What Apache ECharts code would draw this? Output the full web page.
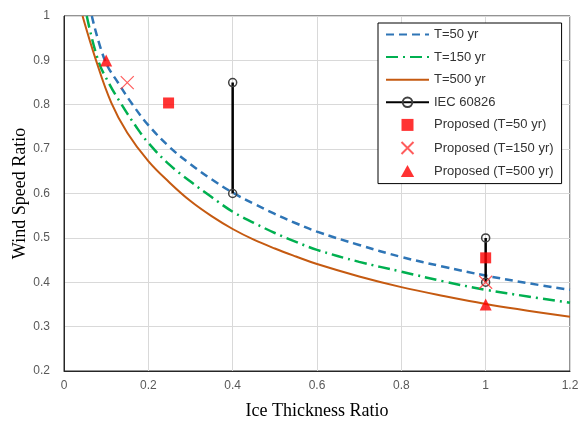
<!DOCTYPE html>
<html>
<head>
<meta charset="utf-8">
<script src="https://cdn.jsdelivr.net/npm/echarts@6/dist/echarts.min.js"></script>
<style>
  html, body { margin: 0; padding: 0; background: #fff; }
  #chart { width: 580px; height: 422px; }
</style>
</head>
<body>
<div id="chart"></div>
<script>
// Wind speed ratio curves against ice thickness ratio for three return periods
const t50X  = [0.066, 0.097, 0.13, 0.163, 0.2, 0.25, 0.3, 0.35, 0.4, 0.45, 0.5, 0.55, 0.6, 0.7, 0.8, 0.9, 1.0, 1.1, 1.2];
const t50Y  = [1.0, 0.9, 0.847, 0.8, 0.754, 0.705, 0.666, 0.632, 0.602, 0.577, 0.554, 0.533, 0.514, 0.484, 0.457, 0.435, 0.415, 0.398, 0.383];
const t150X = [0.054, 0.081, 0.108, 0.137, 0.17, 0.2, 0.25, 0.3, 0.35, 0.4, 0.45, 0.5, 0.55, 0.6, 0.7, 0.8, 0.9, 1.0, 1.1, 1.2];
const t150Y = [1.0, 0.9, 0.846, 0.8, 0.752, 0.714, 0.665, 0.627, 0.592, 0.559, 0.534, 0.511, 0.491, 0.473, 0.446, 0.424, 0.402, 0.383, 0.368, 0.354];
const t500X = [0.044, 0.076, 0.112, 0.15, 0.2, 0.25, 0.3, 0.35, 0.4, 0.45, 0.5, 0.55, 0.6, 0.7, 0.8, 0.9, 1.0, 1.1, 1.2];
const t500Y = [1.0, 0.9, 0.805, 0.737, 0.673, 0.625, 0.583, 0.549, 0.52, 0.496, 0.476, 0.458, 0.441, 0.413, 0.389, 0.369, 0.351, 0.336, 0.322];

// IEC 60826 ranges (two vertical segments)
const iecLowX = [0.4, 0.4];
const iecLowY = [0.6, 0.85];
const iecHighX = [1.0, 1.0];
const iecHighY = [0.4, 0.5];

// Proposed values
const prop50X  = [0.248, 1.0];
const prop50Y  = [0.804, 0.455];
const prop150X = [0.15, 1.0];
const prop150Y = [0.85, 0.40];
const prop500X = [0.1, 1.0];
const prop500Y = [0.9, 0.35];

const xTicks = ['0', '0.2', '0.4', '0.6', '0.8', '1', '1.2'];
const yTicks = ['0.2', '0.3', '0.4', '0.5', '0.6', '0.7', '0.8', '0.9', '1'];

const pairs = (xs, ys) => xs.map((x, i) => [x, ys[i]]);

const labelFont = 'Liberation Sans, Arial, sans-serif';
const nameFont = 'Liberation Serif, Times New Roman, serif';

const crossPath = 'path://M0,0L10,10M10,0L0,10';
const squarePath = 'path://M0,0H10V10H0Z';
const trianglePath = 'path://M5,0L10,9H0Z';

const chart = echarts.init(document.getElementById('chart'), null, { renderer: 'canvas' });

chart.setOption({
  animation: false,
  backgroundColor: '#fff',
  grid: {
    left: 64, right: 10, top: 16, bottom: 51,
    outerBoundsMode: 'none',
    containLabel: false,
    show: true, borderColor: '#262626', borderWidth: 1, backgroundColor: 'transparent'
  },
  legend: {
    orient: 'vertical',
    left: 378, top: 23,
    padding: [5, 8, 6, 7],
    itemWidth: 43, itemHeight: 12, itemGap: 9.6,
    symbolKeepAspect: true,
    backgroundColor: '#fff',
    borderColor: '#000', borderWidth: 1,
    textStyle: { fontFamily: labelFont, fontSize: 13, color: '#333' },
    data: [
      { name: 'T=50 yr', itemStyle: { opacity: 0 } },
      { name: 'T=150 yr', itemStyle: { opacity: 0 } },
      { name: 'T=500 yr', itemStyle: { opacity: 0 } },
      { name: 'IEC 60826' },
      { name: 'Proposed (T=50 yr)', icon: squarePath },
      { name: 'Proposed (T=150 yr)' },
      { name: 'Proposed (T=500 yr)', icon: trianglePath }
    ]
  },
  xAxis: {
    type: 'value', min: 0, max: 1.2, interval: 0.2,
    name: 'Ice Thickness Ratio', nameLocation: 'middle', nameGap: 31,
    nameTextStyle: { fontFamily: nameFont, fontSize: 18, color: '#000' },
    axisLine: { show: true, lineStyle: { color: '#262626', width: 1 } },
    axisTick: { show: false },
    axisLabel: {
      margin: 9, fontFamily: labelFont, fontSize: 12, color: '#595959',
      formatter: (v) => xTicks[Math.round(v / 0.2)]
    },
    splitLine: { show: true, lineStyle: { color: '#d9d9d9', width: 1 } }
  },
  yAxis: {
    type: 'value', min: 0.2, max: 1, interval: 0.1,
    name: 'Wind Speed Ratio', nameLocation: 'middle', nameGap: 35,
    nameMoveOverlap: false,
    nameTextStyle: { fontFamily: nameFont, fontSize: 18, color: '#000' },
    axisLine: { show: true, lineStyle: { color: '#262626', width: 1 } },
    axisTick: { show: false },
    axisLabel: {
      margin: 14, fontFamily: labelFont, fontSize: 12, color: '#595959',
      formatter: (v) => yTicks[Math.round((v - 0.2) / 0.1)]
    },
    splitLine: { show: true, lineStyle: { color: '#d9d9d9', width: 1 } }
  },
  series: [
    {
      name: 'T=50 yr', type: 'line', data: pairs(t50X, t50Y),
      smooth: 0.4,
      symbol: 'none', z: 2,
      lineStyle: { color: '#2e75b6', width: 2.5, type: [8, 5] },
      itemStyle: { color: '#2e75b6' }
    },
    {
      name: 'T=150 yr', type: 'line', data: pairs(t150X, t150Y),
      smooth: 0.4,
      symbol: 'none', z: 2,
      lineStyle: { color: '#00b050', width: 2.5, type: [12, 5, 2, 5] },
      itemStyle: { color: '#00b050' }
    },
    {
      name: 'T=500 yr', type: 'line', data: pairs(t500X, t500Y),
      smooth: 0.4,
      symbol: 'none', z: 2,
      lineStyle: { color: '#c55a11', width: 2 },
      itemStyle: { color: '#c55a11' }
    },
    {
      name: 'IEC 60826', type: 'line', data: pairs(iecLowX, iecLowY),
      symbol: 'circle', symbolSize: 8, showSymbol: true, z: 3,
      lineStyle: { color: '#000', width: 2.5 },
      itemStyle: { color: 'rgba(255,255,255,0)', borderColor: '#404040', borderWidth: 1.5 }
    },
    {
      name: 'IEC 60826', type: 'line', data: pairs(iecHighX, iecHighY),
      symbol: 'circle', symbolSize: 8, showSymbol: true, z: 3,
      lineStyle: { color: '#000', width: 2.5 },
      itemStyle: { color: 'rgba(255,255,255,0)', borderColor: '#404040', borderWidth: 1.5 }
    },
    {
      name: 'Proposed (T=50 yr)', type: 'scatter', data: pairs(prop50X, prop50Y),
      symbol: 'rect', symbolSize: 11, z: 4,
      itemStyle: { color: '#ff0000' }
    },
    {
      name: 'Proposed (T=150 yr)', type: 'scatter', data: pairs(prop150X, prop150Y),
      symbol: crossPath, symbolSize: 13, z: 4,
      itemStyle: { color: 'rgba(255,0,0,0)', borderColor: '#ff3333', borderWidth: 1.2 }
    },
    {
      name: 'Proposed (T=500 yr)', type: 'scatter', data: pairs(prop500X, prop500Y),
      symbol: 'triangle', symbolSize: 12, z: 4,
      itemStyle: { color: '#ff0000' }
    }
  ]
});
</script>
</body>
</html>
